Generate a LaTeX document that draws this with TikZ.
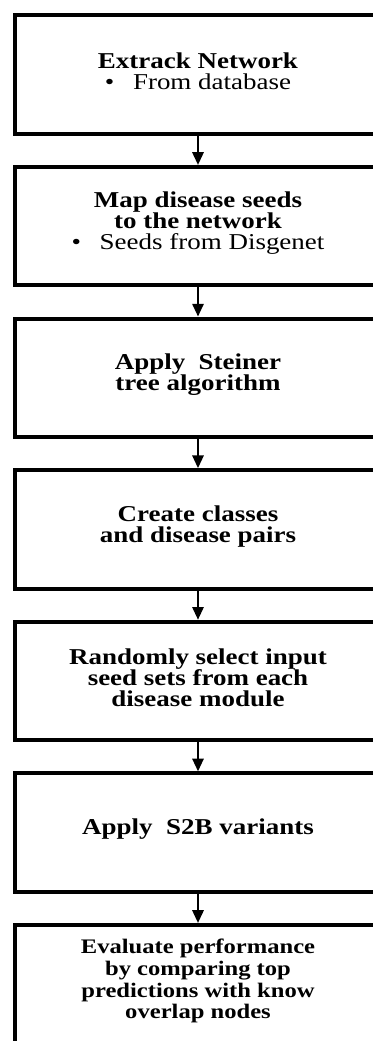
\documentclass[tikz,border=0pt]{standalone}
\usepackage{fontspec}
\setmainfont{Liberation Serif}[FakeStretch=1.19]
\usetikzlibrary{arrows.meta}
\tikzset{
  stepbox/.style={draw=black, line width=3pt, rectangle, minimum width=366*0.75pt,
    minimum height=118.4*0.75pt, inner sep=0pt},
  steptext/.style={align=center, inner sep=0pt, text=black, yshift=2.25pt,
    font=\fontsize{17}{16}\selectfont\bfseries},
  smalltext/.style={steptext, yshift=0pt, font=\fontsize{15.5}{16.3}\selectfont\bfseries},
  flow/.style={line width=1.4pt, -{Triangle[length=9.5pt,width=8.5pt]}}
}
\newcommand{\itembullet}[1]{{\mdseries\textbullet\hspace{14pt}#1}}
\begin{document}
\begin{tikzpicture}[x=0.75pt,y=-0.75pt]
\useasboundingbox (0,0) rectangle (373,1041);
\clip (0,0) rectangle (373,1041);
\fill[white] (0,0) rectangle (373,1041);
\node[stepbox, label={[steptext]center:{Extrack Network\\ \itembullet{From database}}}] (b1) at (198,74.5) {};
\node[stepbox, label={[steptext]center:{Map disease seeds\\ to the network\\ \itembullet{Seeds from Disgenet}}}] (b2) at (198,226.1) {};
\node[stepbox, label={[steptext]center:{Apply\ \ Steiner\\ tree algorithm}}] (b3) at (198,377.7) {};
\node[stepbox, label={[steptext]center:{Create classes\\ and disease pairs}}] (b4) at (198,529.3) {};
\node[stepbox, label={[steptext]center:{Randomly select input\\ seed sets from each\\ disease module}}] (b5) at (198,680.9) {};
\node[stepbox, label={[steptext]center:{Apply\ \ S2B variants}}] (b6) at (198,832.5) {};
\node[stepbox, label={[smalltext]center:{Evaluate performance\\ by comparing top\\ predictions with know\\ overlap nodes}}] (b7) at (198,984.1) {};
\draw[flow] (b1) -- (b2);
\draw[flow] (b2) -- (b3);
\draw[flow] (b3) -- (b4);
\draw[flow] (b4) -- (b5);
\draw[flow] (b5) -- (b6);
\draw[flow] (b6) -- (b7);
\end{tikzpicture}
\end{document}
